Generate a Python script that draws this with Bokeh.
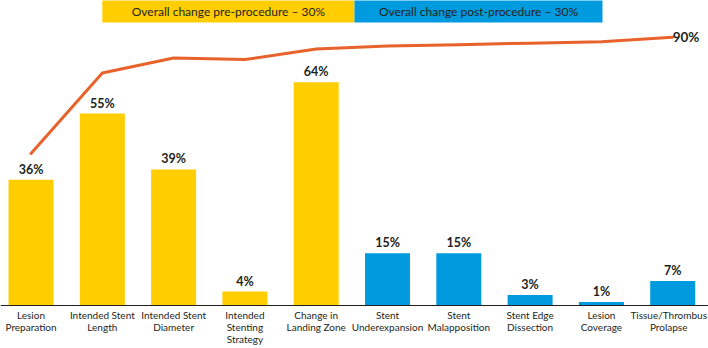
from bokeh.plotting import figure
from bokeh.models import Range1d, Span, ColumnDataSource
from bokeh.core.properties import value
from bokeh.embed import file_html
from bokeh.resources import INLINE

# ---- data ----
categories = [
    "Lesion\nPreparation",
    "Intended Stent\nLength",
    "Intended Stent\nDiameter",
    "Intended\nStenting\nStrategy",
    "Change in\nLanding Zone",
    "Stent\nUnderexpansion",
    "Stent\nMalapposition",
    "Stent Edge\nDissection",
    "Lesion\nCoverage",
    "Tissue/Thrombus\nProlapse",
]
values = [36, 55, 39, 4, 64, 15, 15, 3, 1, 7]
phases = ["pre", "pre", "pre", "pre", "pre", "post", "post", "post", "post", "post"]
cumulative = [51, 78, 83, 82.5, 86, 87, 87.5, 88, 88.5, 90]
legend_labels = ["Overall change pre-procedure \u2013 30%", "Overall change post-procedure \u2013 30%"]

# ---- styles ----
YELLOW = "#FFCD00"
BLUE = "#009BDF"
ORANGE = "#E8622C"
DARK = "#231F20"
FONT = "Lato"

x = list(range(len(categories)))
colors = [YELLOW if ph == "pre" else BLUE for ph in phases]
value_labels = [f"{v}%" for v in values]
# keep the last (widest) label inside the right edge
label_dx = [0] * (len(categories) - 1) + [-4]

src = ColumnDataSource(dict(x=x, top=values, color=colors, lab=value_labels,
                            cat=categories, zero=[0] * len(x), cum=cumulative,
                            dx=label_dx))

p = figure(width=708, height=348, x_range=Range1d(-0.428, 9.502),
           y_range=Range1d(-12.32, 87.39), output_backend="svg",
           toolbar_location=None, x_axis_location=None, y_axis_location=None,
           min_border=0)
p.grid.visible = False
p.outline_line_color = None
p.background_fill_color = "white"
p.border_fill_color = "white"
p.extra_y_ranges = {"cum": Range1d(-14.42, 102.3)}

# legend boxes (layout in data units)
leg_left = [1.0, 4.537]
leg_right = [4.537, 8.015]
p.quad(left=leg_left, right=leg_right, top=[95, 95], bottom=[81.1, 81.1],
       color=[YELLOW, BLUE], line_color=None)
p.text(x=[(a + b) / 2 for a, b in zip(leg_left, leg_right)], y=[84.3, 84.3],
       text=legend_labels, text_align="center", text_baseline="middle",
       text_font=value(FONT), text_font_size="12px", text_color=DARK)

# bars
p.vbar(x="x", top="top", width=0.631, color="color", line_color=None, source=src)

# baseline
p.add_layout(Span(location=0, dimension="width", line_color=DARK, line_width=1))

# value labels
p.text(x="x", y="top", text="lab", source=src, text_align="center",
       text_baseline="bottom", y_offset=-3, text_font=value(FONT),
       text_font_size="12.5px", text_font_style="bold", text_color=DARK)

# category labels
p.text(x="x", y="zero", text="cat", source=src, text_align="center",
       text_baseline="top", x_offset="dx", y_offset=3, text_font=value(FONT),
       text_font_size="10px", text_line_height=1.03, text_color=DARK)

# cumulative line
p.line(x="x", y="cum", source=src, y_range_name="cum", line_color=ORANGE,
       line_width=3, line_cap="round", line_join="round")
p.text(x=[x[-1]], y=[cumulative[-1]], text=[f"{cumulative[-1]}%"],
       y_range_name="cum", x_offset=0, text_align="left",
       text_baseline="middle", text_font=value(FONT), text_font_size="13.5px",
       text_font_style="bold", text_color=DARK)

open("out.html", "w").write(file_html(p, INLINE))
